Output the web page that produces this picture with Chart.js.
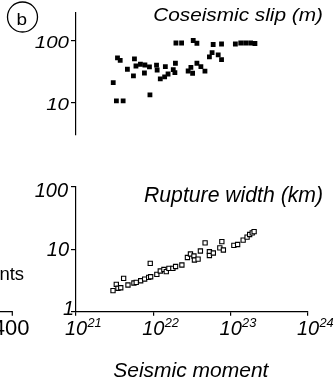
<!DOCTYPE html>
<html>
<head>
<meta charset="utf-8">
<script src="https://cdn.jsdelivr.net/npm/chart.js@4.4.1/dist/chart.umd.min.js"></script>
<style>
  html, body { margin: 0; padding: 0; background: #fff; }
  body { width: 335px; height: 384px; position: relative; overflow: hidden; }
  canvas { position: absolute; left: 0; }
  #top { top: 0; }
  #bottom { top: 150px; }
</style>
</head>
<body>
<canvas id="top" width="335" height="150"></canvas>
<canvas id="bottom" width="335" height="234"></canvas>
<script>
// ---- data ----
const slipMoment = [3.03e21, 3.33e21, 4.07e21, 3.44e21, 3.73e21, 4.62e21, 5.70e21, 5.53e21, 5.96e21, 6.81e21,
  7.78e21, 7.67e21, 8.91e21, 9.04e21, 1.10e22, 1.12e22, 1.23e22, 1.40e22, 1.43e22, 1.55e22,
  1.96e22, 2.32e22, 3.28e22, 3.66e22, 5.94e22, 7.62e22, 1.15e23, 1.35e23, 1.56e23, 1.81e23,
  2.06e23, 5.75e22, 5.31e22, 6.90e22, 7.62e22, 1.93e22, 1.81e22, 1.90e22, 2.82e22, 3.06e22,
  3.66e22, 4.12e22, 4.65e22, 3.22e22];
const slipValues = [21.0, 10.7, 10.7, 52.6, 48.0, 34.6, 50.7, 27.0, 39.0, 41.6,
  40.5, 30.1, 37.7, 13.3, 40.3, 33.6, 24.1, 26.0, 38.1, 29.0,
  91.8, 91.8, 100.7, 90.8, 86.8, 88.4, 88.4, 91.8, 91.8, 91.8,
  90.1, 64.0, 54.6, 58.8, 49.4, 43.2, 34.0, 30.5, 32.4, 37.0,
  43.2, 38.1, 32.2, 29.8];

const widthMoment = [3.01e21, 3.32e21, 3.49e21, 3.79e21, 4.13e21, 4.70e21, 5.61e21, 6.01e21, 6.86e21, 7.72e21,
  8.70e21, 9.23e21, 9.12e21, 1.11e22, 1.23e22, 1.37e22, 1.47e22, 1.59e22, 1.79e22, 1.94e22,
  2.34e22, 2.76e22, 3.02e22, 3.35e22, 3.40e22, 3.79e22, 4.06e22, 4.67e22, 5.31e22, 5.31e22,
  5.97e22, 7.24e22, 7.69e22, 8.05e22, 1.10e23, 1.23e23, 1.45e23, 1.63e23, 1.76e23, 1.90e23, 2.01e23];
const widthValues = [2.17, 2.74, 2.37, 2.42, 3.42, 2.67, 2.88, 2.95, 3.13, 3.33,
  3.55, 3.63, 5.94, 3.96, 4.48, 4.73, 4.37, 4.94, 4.94, 5.29,
  5.58, 7.36, 8.38, 7.78, 6.71, 6.92, 9.36, 12.6, 9.12, 7.92,
  8.69, 10.5, 13.2, 9.70, 11.5, 11.9, 14.0, 15.6, 17.2, 18.2, 19.1];

const momentTicks = [1e21, 1e22, 1e23, 1e24];
const momentTickLabels = ['10', '10', '10', '10'];
const momentTickExps = ['21', '22', '23', '24'];
const slipTicks = [10, 100];
const slipTickLabels = ['10', '100'];
const widthTicks = [1, 10, 100];
const widthTickLabels = ['1', '10', '100'];

const slipTitle = 'Coseismic slip (m)';
const widthTitle = 'Rupture width (km)';
const xTitle = 'Seismic moment';
const panelLetter = 'b';
const neighbourText = 'nts';
const neighbourTick = '400';

// ---- helpers ----
const FAM = '"Liberation Sans", Arial, sans-serif';
function txt(ctx, s, x, y, font, align, sy) {
  ctx.save();
  ctx.font = font;
  ctx.textAlign = align;
  ctx.textBaseline = 'alphabetic';
  ctx.fillStyle = '#000';
  ctx.translate(x, y);
  ctx.scale(1, sy || 1);
  ctx.fillText(s, 0, 0);
  ctx.restore();
}
function pts(xs, ys) { return xs.map((x, i) => ({ x: x, y: ys[i] })); }

const axisGrid = (len) => ({ display: true, drawOnChartArea: false, drawTicks: true, tickLength: len, color: '#000', lineWidth: 1.2 });
const axisBorder = { display: true, color: '#000', width: 1.2 };

// ---- top panel ----
const topDecor = {
  id: 'topDecor',
  afterDraw(chart) {
    const ctx = chart.ctx;
    const ys = chart.scales.y;
    // panel letter
    ctx.save();
    ctx.beginPath();
    ctx.arc(22.5, 17, 15, 0, Math.PI * 2);
    ctx.lineWidth = 1.3;
    ctx.strokeStyle = '#000';
    ctx.stroke();
    ctx.restore();
    txt(ctx, panelLetter, 21.8, 24.5, '19px ' + FAM, 'center', 0.9);
    // title
    txt(ctx, slipTitle, 323, 20.7, 'italic 20.8px ' + FAM, 'right', 0.85);
    // y tick labels
    slipTicks.forEach((v, i) => {
      const py = ys.getPixelForValue(v);
      txt(ctx, slipTickLabels[i], 69, py + 7.2, 'italic 20.5px ' + FAM, 'right', 0.82);
    });
  }
};

new Chart(document.getElementById('top'), {
  type: 'scatter',
  data: { datasets: [{
    data: pts(slipMoment, slipValues),
    pointStyle: 'rect', pointRadius: 3.4, pointHoverRadius: 3.4,
    backgroundColor: '#000', borderColor: '#000', borderWidth: 0
  }]},
  options: {
    responsive: false, devicePixelRatio: 1, animation: false,
    layout: { padding: { left: 0, right: 27, top: 12.7, bottom: 15 } },
    plugins: { legend: { display: false }, tooltip: { enabled: false } },
    scales: {
      x: { type: 'logarithmic', min: 1e21, max: 1e24, display: false },
      y: {
        type: 'logarithmic', min: 3, max: 283, position: 'left',
        afterBuildTicks: (s) => { s.ticks = slipTicks.map(v => ({ value: v })); },
        afterFit: (s) => { s.width = 76; },
        ticks: { display: false },
        grid: axisGrid(5), border: axisBorder
      }
    }
  },
  plugins: [topDecor]
});

// ---- bottom panel ----
const yLabelShift = [3.3, 6.7, 10.3];   // baseline offsets below each tick
const yLabelRight = [74, 69, 68];
const bottomDecor = {
  id: 'bottomDecor',
  afterDraw(chart) {
    const ctx = chart.ctx;
    const xs = chart.scales.x, ys = chart.scales.y;
    const axisY = chart.chartArea.bottom;
    txt(ctx, widthTitle, 323, 52, 'italic 21.2px ' + FAM, 'right');
    widthTicks.forEach((v, i) => {
      const py = ys.getPixelForValue(v);
      txt(ctx, widthTickLabels[i], yLabelRight[i], py + yLabelShift[i], 'italic 20px ' + FAM, 'right');
    });
    momentTicks.forEach((v, i) => {
      const px = xs.getPixelForValue(v);
      ctx.save();
      ctx.font = 'italic 20px ' + FAM;
      const w = ctx.measureText(momentTickLabels[i]).width;
      ctx.restore();
      txt(ctx, momentTickLabels[i], px - w / 2, axisY + 23.3, 'italic 20px ' + FAM, 'left');
      txt(ctx, momentTickExps[i], px + w / 2 + 0.3, axisY + 15.5, 'italic 12.8px ' + FAM, 'left');
    });
    txt(ctx, xTitle, 190.8, 227.3, 'italic 21px ' + FAM, 'center');
    // clipped remains of the neighbouring panel
    txt(ctx, neighbourText, -0.6, 130, '18.5px ' + FAM, 'left');
    ctx.save();
    ctx.strokeStyle = '#000';
    ctx.lineWidth = 1.2;
    ctx.beginPath();
    ctx.moveTo(0, axisY); ctx.lineTo(12.3, axisY); ctx.lineTo(12.3, axisY + 4);
    ctx.stroke();
    ctx.restore();
    txt(ctx, neighbourTick, 11.2, axisY + 23.3, '22px ' + FAM, 'center');
  }
};

new Chart(document.getElementById('bottom'), {
  type: 'scatter',
  data: { datasets: [{
    data: pts(widthMoment, widthValues),
    pointStyle: 'rect', pointRadius: 3.0, pointHoverRadius: 3.0,
    backgroundColor: '#fff', borderColor: '#000', borderWidth: 1.1
  }]},
  options: {
    responsive: false, devicePixelRatio: 1, animation: false,
    layout: { padding: { left: 0, right: 27, top: 36.7, bottom: 0 } },
    plugins: { legend: { display: false }, tooltip: { enabled: false } },
    scales: {
      x: {
        type: 'logarithmic', min: 1e21, max: 1e24, position: 'bottom',
        afterBuildTicks: (s) => { s.ticks = momentTicks.map(v => ({ value: v })); },
        afterFit: (s) => { s.height = 72.3; },
        ticks: { display: false },
        grid: axisGrid(4), border: axisBorder
      },
      y: {
        type: 'logarithmic', min: 1, max: 100, position: 'left',
        afterBuildTicks: (s) => { s.ticks = widthTicks.map(v => ({ value: v })); },
        afterFit: (s) => { s.width = 76; },
        ticks: { display: false },
        grid: axisGrid(5), border: axisBorder
      }
    }
  },
  plugins: [bottomDecor]
});
</script>
</body>
</html>
